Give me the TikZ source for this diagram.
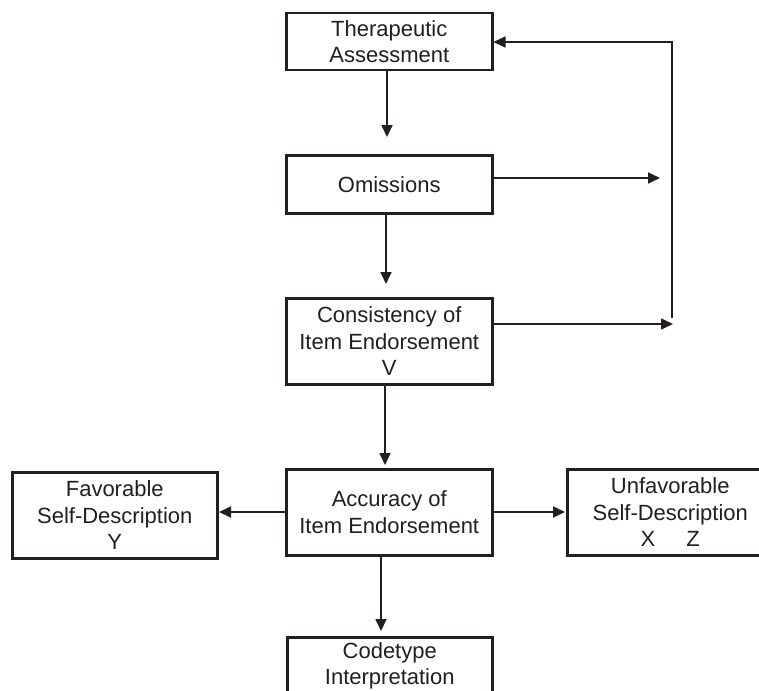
\documentclass[tikz,border=0pt]{standalone}
\usepackage{fontspec}
\setmainfont{Liberation Sans}
\usetikzlibrary{arrows.meta}
\definecolor{ink}{HTML}{231F20}
\newcommand\boxfont{\fontsize{22}{26.6}\selectfont}

\begin{document}
\begin{tikzpicture}[x=1pt,y=-1pt,
  box/.style={draw=ink, line width=2.5pt, text=ink, font=\boxfont,
    align=center, inner sep=0pt, minimum width=206pt, anchor=north west},
  arr/.style={draw=ink, line width=1.7pt, -{Triangle[length=12pt,width=11pt]}},
]
\useasboundingbox (0,0) rectangle (759,690);
\clip (0,0) rectangle (759,690);
\fill[white] (0,0) rectangle (759,690);

% boxes
\node[box, minimum height=57pt] (ta) at (285,12) {Therapeutic\\Assessment};
\node[box, minimum height=58pt] (om) at (285,154) {Omissions};
\node[box, minimum height=86pt] (con) at (285,297) {Consistency of\\Item Endorsement\\V};
\node[box, minimum height=86pt] (acc) at (285,468) {Accuracy of\\Item Endorsement};
\node[box, minimum height=86pt, minimum width=205pt] (fav) at (11,471) {Favorable\\Self-Description\\Y};
\node[box, minimum height=86pt] (unf) at (566,468) {Unfavorable\\Self-Description\\X\hspace{31pt}Z};
\node[box, minimum height=57pt, minimum width=205pt] (code) at (286,636) {Codetype\\Interpretation};

% arrow end points
\coordinate (tipOm) at (387,137);
\coordinate (tipCon) at (386,284);
\coordinate (tipAcc) at (385,465);
\coordinate (tipCode) at (381,631);
\coordinate (tipFav) at (219,512);
\coordinate (tipUnf) at (565,512);
\coordinate (tipOmR) at (660,178);
\coordinate (tipConR) at (673,324);
\coordinate (loopTop) at (672,42);
\coordinate (loopBot) at (672,318);

% main flow
\draw[arr] (ta.south -| tipOm) -- (tipOm);
\draw[arr] (om.south -| tipCon) -- (tipCon);
\draw[arr] (con.south -| tipAcc) -- (tipAcc);
\draw[arr] (acc.south -| tipCode) -- (tipCode);
\draw[arr] (acc.west |- tipFav) -- (tipFav);
\draw[arr] (acc.east |- tipUnf) -- (tipUnf);

% feedback loop
\draw[arr] (om.east |- tipOmR) -- (tipOmR);
\draw[arr] (con.east |- tipConR) -- (tipConR);
\draw[arr] (loopBot) -- (loopTop) -- (ta.east |- loopTop);
\end{tikzpicture}
\end{document}
